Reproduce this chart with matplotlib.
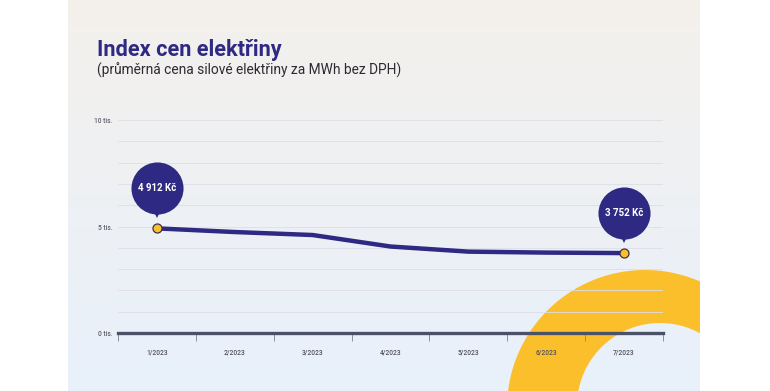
import numpy as np
import matplotlib
matplotlib.use("Agg")
import matplotlib.pyplot as plt
import matplotlib.patches as patches
import matplotlib.transforms as mtransforms
from matplotlib.path import Path

plt.rcParams['font.family'] = ['Roboto', 'DejaVu Sans']

# data
months = ['1/2023', '2/2023', '3/2023', '4/2023', '5/2023', '6/2023', '7/2023']
prices = [4912, 4740, 4600, 4060, 3820, 3775, 3752]
y_ticks = [0, 5000, 10000]
y_tick_labels = ['0 tis.', '5 tis.', '10 tis.']
callouts = {0: '4 912 Kč', 6: '3 752 Kč'}

title = 'Index cen elektřiny'
subtitle = '(průměrná cena silové elektřiny za MWh bez DPH)'

indigo = '#2e2a84'
yellow = '#fbbf2c'

W, H = 770, 391
fig = plt.figure(figsize=(W / 100, H / 100), dpi=100)
fig.patch.set_facecolor('white')

# background panel with gradient and yellow ring
bg = fig.add_axes([0, 0, 1, 1])
bg.set_xlim(0, W)
bg.set_ylim(H, 0)
bg.axis('off')
top_c = np.array([0xf4, 0xf1, 0xec]) / 255
bot_c = np.array([0xe8, 0xf0, 0xfb]) / 255
t = np.linspace(0, 1, 256)[:, None]
grad = (top_c[None, :] * (1 - t) + bot_c[None, :] * t)[:, None, :]
bg.imshow(grad, extent=[68, 700, H, 0], aspect='auto', zorder=0)
panel = patches.Rectangle((68, 0), 632, H, transform=bg.transData, facecolor='none', edgecolor='none')
bg.add_patch(panel)

# ring: outer circle minus an off-centre inner circle
th = np.linspace(0, 2 * np.pi, 200)
outer = np.column_stack([645 + 138 * np.cos(th), 408 + 138 * np.sin(th)])
inner = np.column_stack([660 + 83 * np.cos(th), 406 + 83 * np.sin(th)])[::-1]
verts = np.vstack([outer, outer[:1], inner, inner[:1]])
codes = ([Path.MOVETO] + [Path.LINETO] * (len(outer) - 1) + [Path.CLOSEPOLY]) * 2
ring = patches.PathPatch(Path(verts, codes), facecolor=yellow, edgecolor='none', zorder=1)
bg.add_patch(ring)
ring.set_clip_path(panel)

bg.text(97, 56, title, fontsize=15.7, fontweight='bold', color=indigo, va='baseline')
bg.text(97, 75, subtitle, fontsize=9.9, color='#2b2b33', va='baseline')

# chart
left, right = 118, 663
y0, y10 = 333, 120
ax = fig.add_axes([left / W, (H - y0) / H, (right - left) / W, (y0 - y10) / H])
ax.patch.set_alpha(0)
x = np.arange(len(months))
ax.set_xlim(-0.5, len(months) - 0.5)
ax.set_ylim(0, 10000)

for v in range(1000, 10001, 1000):
    ax.axhline(v, color='#dcdfe7', lw=0.6, zorder=1)

ax.plot(x, prices, color=indigo, lw=3.2, solid_joinstyle='round', zorder=3)
ends = list(callouts.keys())
ax.plot(x[ends], [prices[i] for i in ends], ls='none', marker='o', ms=6.5,
        mfc=yellow, mec='#3a3350', mew=0.9, zorder=5)

for i, label in callouts.items():
    bubble = mtransforms.offset_copy(ax.transData, fig, x=0, y=40, units='dots')
    tip = mtransforms.offset_copy(ax.transData, fig, x=0, y=16, units='dots')
    ax.plot(x[i], prices[i], marker='v', ms=8, color=indigo, mew=0, transform=tip, zorder=6, clip_on=False)
    ax.plot(x[i], prices[i], marker='o', ms=37.5, color=indigo, mew=0, transform=bubble, zorder=6, clip_on=False)
    ax.text(x[i], prices[i], label, transform=bubble, ha='center', va='center',
            color='white', fontsize=7, fontweight='bold', zorder=7)

for s in ['top', 'right', 'left']:
    ax.spines[s].set_visible(False)
ax.spines['bottom'].set_color('#4b5166')
ax.spines['bottom'].set_linewidth(2.4)
ax.spines['bottom'].set_zorder(4)

ax.set_yticks(y_ticks)
ax.set_yticklabels(y_tick_labels)
ax.tick_params(axis='y', length=0, pad=4, labelsize=4.8, labelcolor='#5c606b')
ax.set_xticks(x)
ax.set_xticklabels(months)
ax.set_xticks(np.arange(-0.5, len(months)), minor=True)
ax.tick_params(axis='x', which='major', length=0, pad=11, labelsize=4.8, labelcolor='#4f5360')
ax.tick_params(axis='x', which='minor', length=6, width=0.7, color='#8a8f9c')
for lab in ax.get_yticklabels() + ax.get_xticklabels():
    lab.set_fontweight('medium')

fig.savefig('out.png', dpi=100)
